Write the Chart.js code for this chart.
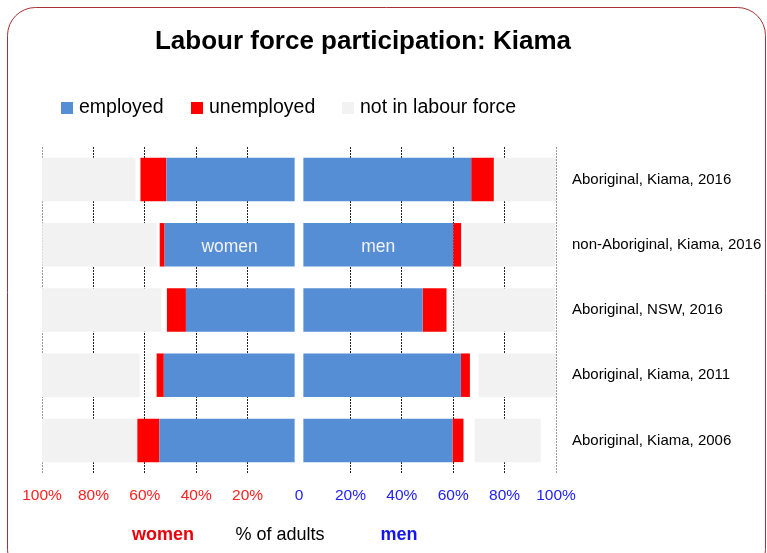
<!DOCTYPE html>
<html>
<head>
<meta charset="utf-8">
<script src="https://cdn.jsdelivr.net/npm/chart.js@4/dist/chart.umd.min.js"></script>
<style>
  body { margin: 0; background: #fff; }
  #wrap { position: relative; width: 767px; height: 553px; }
</style>
</head>
<body>
<div id="wrap"><canvas id="chart" width="767" height="553"></canvas></div>
<script>
// rows, top to bottom
var categories = ['Aboriginal, Kiama, 2016', 'non-Aboriginal, Kiama, 2016', 'Aboriginal, NSW, 2016', 'Aboriginal, Kiama, 2011', 'Aboriginal, Kiama, 2006'];

// % of adults
var womenEmployed   = [49.9, 50.6, 42.3, 50.9, 52.6];
var womenUnemployed = [10.1, 1.9, 7.4, 2.8, 8.6];
var womenNotStated  = [1.9, 1.2, 2.2, 6.6, 0];
var womenNotInLF    = [36.6, 44.5, 46.6, 38.1, 37.4];

var menEmployed   = [65.3, 58.3, 46.4, 61.3, 58.0];
var menUnemployed = [8.8, 3.1, 9.3, 3.5, 4.3];
var menNotStated  = [0.3, 0.8, 2.8, 3.4, 4.3];
var menNotInLF    = [24.7, 35.8, 39.5, 30.7, 25.7];

// blank strip either side of the centre line
var centreGap = [1.7, 1.7, 1.7, 1.7, 1.7];

var xTicks = [-100, -80, -60, -40, -20, 0, 20, 40, 60, 80, 100];

var BLUE = '#558ed5', RED = '#ff0000', GREY = '#f2f2f2';
var FONT = '"Liberation Sans", Arial, sans-serif';

function neg(arr) { return arr.map(function (v) { return -v; }); }

function ds(label, data, color, legend) {
    return {
        label: label,
        data: data,
        backgroundColor: color,
        borderWidth: 0,
        stack: 's',
        categoryPercentage: 0.667,
        barPercentage: 1,
        inLegend: legend
    };
}

var datasets = [
    ds('gap', neg(centreGap), 'rgba(0,0,0,0)', false),
    ds('gap', centreGap, 'rgba(0,0,0,0)', false),
    ds('employed', neg(womenEmployed), BLUE, true),
    ds('employed', menEmployed, BLUE, false),
    ds('unemployed', neg(womenUnemployed), RED, true),
    ds('unemployed', menUnemployed, RED, false),
    ds('not stated', neg(womenNotStated), 'rgba(0,0,0,0)', false),
    ds('not stated', menNotStated, 'rgba(0,0,0,0)', false),
    ds('not in labour force', neg(womenNotInLF), GREY, true),
    ds('not in labour force', menNotInLF, GREY, false)
];

const extras = {
    id: 'extras',
    beforeDraw(chart) {
        const ctx = chart.ctx;
        ctx.save();
        ctx.strokeStyle = '#a83232';
        ctx.lineWidth = 1;
        ctx.beginPath();
        ctx.roundRect(7.5, 7.5, 758, 570, 28);
        ctx.stroke();
        ctx.restore();
    },
    afterDraw(chart) {
        const ctx = chart.ctx;
        ctx.save();
        // title
        ctx.fillStyle = '#000';
        ctx.font = 'bold 26px ' + FONT;
        ctx.textAlign = 'center';
        ctx.textBaseline = 'middle';
        ctx.fillText('Labour force participation: Kiama', 363, 42);

        // legend
        ctx.font = '19.5px ' + FONT;
        ctx.textAlign = 'left';
        var items = chart.data.datasets.filter(function (d) { return d.inLegend; });
        var lx = [61, 191, 342];
        items.forEach(function (d, i) {
            ctx.fillStyle = d.backgroundColor;
            ctx.fillRect(lx[i], 102, 12, 12);
            ctx.fillStyle = '#000';
            ctx.fillText(d.label, lx[i] + 18, 108);
        });

        // women / men inside the second row
        ctx.font = '17.5px ' + FONT;
        ctx.textAlign = 'center';
        ctx.fillStyle = '#f4f4f4';
        var w = chart.getDatasetMeta(2).data[1];
        var m = chart.getDatasetMeta(3).data[1];
        ctx.fillText('women', (w.x + w.base) / 2, w.y + 2);
        ctx.fillText('men', (m.x + m.base) / 2, m.y + 2);

        // bottom captions
        ctx.font = 'bold 18px ' + FONT;
        ctx.fillStyle = '#e8000b';
        ctx.fillText('women', 163, 535);
        ctx.fillStyle = '#1414f0';
        ctx.fillText('men', 399, 535);
        ctx.font = '18px ' + FONT;
        ctx.fillStyle = '#000';
        ctx.fillText('% of adults', 280, 535);
        ctx.restore();
    }
};

new Chart(document.getElementById('chart'), {
    type: 'bar',
    data: { labels: categories, datasets: datasets },
    options: {
        indexAxis: 'y',
        responsive: false,
        animation: false,
        devicePixelRatio: 1,
        layout: { padding: { left: 42, top: 147, right: 0, bottom: 0 } },
        plugins: {
            legend: { display: false },
            tooltip: { enabled: false }
        },
        scales: {
            x: {
                type: 'linear',
                stacked: true,
                min: -100,
                max: 100,
                afterBuildTicks: function (scale) {
                    scale.ticks = xTicks.map(function (v) { return { value: v }; });
                },
                afterFit: function (scale) { scale.height = 80; },
                ticks: {
                    padding: 13,
                    font: { family: FONT, size: 15.5 },
                    color: function (c) { return c.tick.value < 0 ? '#ff2020' : '#2020ff'; },
                    callback: function (v) { return v === 0 ? '0' : Math.abs(v) + '%'; },
                    maxRotation: 0
                },
                grid: {
                    drawTicks: false,
                    color: function (c) {
                        if (c.tick.value === 0) return 'rgba(0,0,0,0)';
                        if (Math.abs(c.tick.value) === 100) return '#9a9a9a';
                        return '#222';
                    }
                },
                border: { display: false, dash: [2, 1] }
            },
            y: {
                type: 'category',
                position: 'right',
                stacked: true,
                afterFit: function (scale) { scale.width = 211; },
                ticks: {
                    padding: 16,
                    font: { family: FONT, size: 15 },
                    color: '#000'
                },
                grid: { display: false, drawTicks: false },
                border: { display: false }
            }
        }
    },
    plugins: [extras]
});
</script>
</body>
</html>
